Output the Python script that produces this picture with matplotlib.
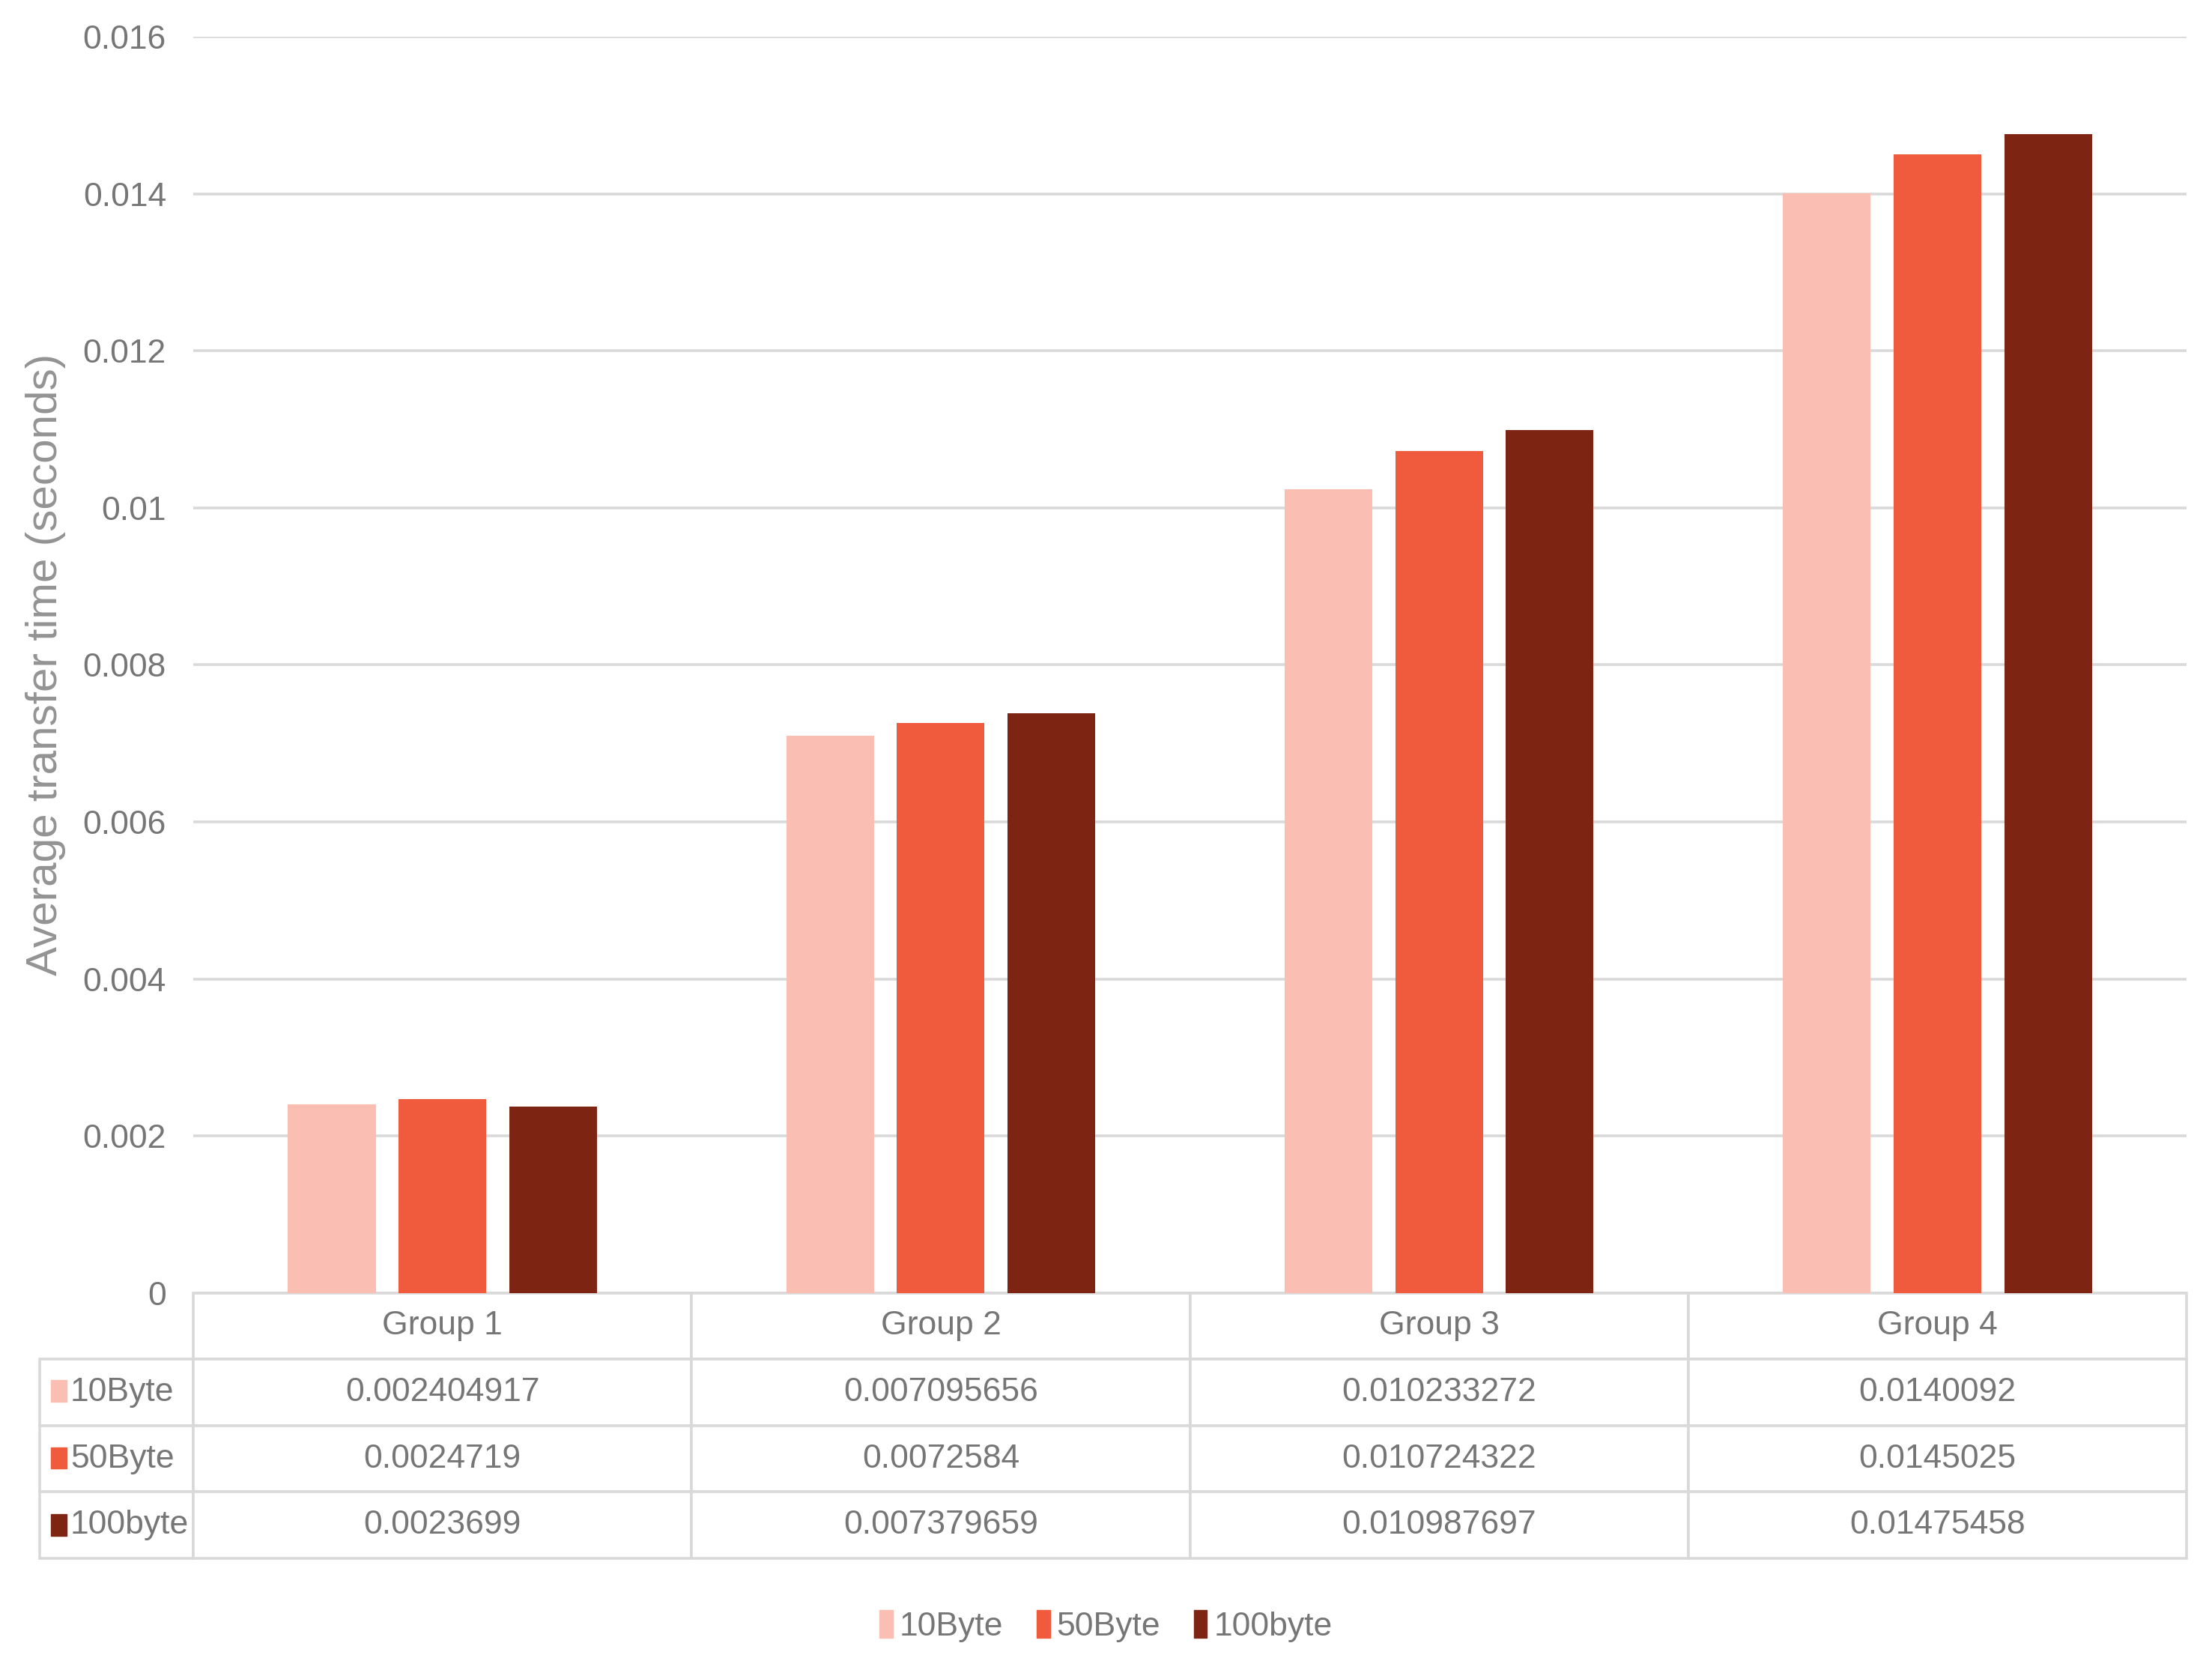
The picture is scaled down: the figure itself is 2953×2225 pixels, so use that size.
import numpy as np
import matplotlib.pyplot as plt
from matplotlib.patches import Rectangle, Patch

groups = ["Group 1", "Group 2", "Group 3", "Group 4"]
series = ["10Byte", "50Byte", "100byte"]
v10 = [0.002404917, 0.007095656, 0.010233272, 0.0140092]
v50 = [0.0024719, 0.0072584, 0.010724322, 0.0145025]
v100 = [0.0023699, 0.007379659, 0.010987697, 0.01475458]
yticks = [0, 0.002, 0.004, 0.006, 0.008, 0.01, 0.012, 0.014, 0.016]
ytick_labels = ["0", "0.002", "0.004", "0.006", "0.008", "0.01", "0.012", "0.014", "0.016"]

colors = ["#FBBEB2", "#EF5B3C", "#7D2412"]
grey = "#767676"
line_grey = "#D9D9D9"
font = ["Liberation Sans", "DejaVu Sans"]
fs = 32

fig = plt.figure(figsize=(29.53, 22.25), dpi=100)
ax = fig.add_axes([0.0874, 0.2244, 0.9011, 0.7536])

vals = [v10, v50, v100]
x = np.arange(len(groups))
width = 0.176
offsets = [-0.222, 0.0, 0.222]
for vs, off, c, name in zip(vals, offsets, colors, series):
    ax.bar(x + off, vs, width, color=c, label=name, zorder=3)

ax.set_xlim(-0.5, 3.5)
ax.set_ylim(0, 0.016)
ax.set_yticks(yticks)
ax.set_yticklabels(ytick_labels, family=font, fontsize=fs, color=grey)
ax.set_xticks([])
ax.tick_params(axis="y", length=0, pad=26)
for s in ax.spines.values():
    s.set_visible(False)
ax.yaxis.grid(True, color=line_grey, lw=2.6, zorder=0)

ax.set_ylabel("Average transfer time (seconds)", fontsize=42, color="#939393",
              family=font, labelpad=0)
ax.yaxis.set_label_coords(-0.064, 0.5)

# data table under the bars: first column holds the series names
cell_text = [[name] + [str(v) for v in vs] for name, vs in zip(series, vals)]
row_w = 109 / 1413
col_w = 353.25 / 1413
tbl = ax.table(cellText=cell_text, colLabels=[""] + groups,
               cellLoc="center", colLoc="center",
               colWidths=[row_w] + [col_w] * 4,
               bbox=[-row_w, -0.2112, 1 + row_w, 0.2112])
tbl.auto_set_font_size(False)
for (r, c), cell in tbl.get_celld().items():
    cell.set_edgecolor(line_grey)
    cell.set_linewidth(2.6)
    txt = cell.get_text()
    txt.set_fontsize(fs)
    txt.set_color(grey)
    txt.set_family(font)
    if c == 0:
        if r == 0:
            cell.visible_edges = ""
        else:
            cell._loc = "left"
            txt.set_horizontalalignment("left")
            cell.PAD = 0.2

# colour keys in the series name cells
row_centers = [-0.0781, -0.1315, -0.1848]
for yc, c in zip(row_centers, colors):
    ax.add_patch(Rectangle((-0.0715, yc - 0.0085), 0.0078, 0.017,
                           transform=ax.transAxes, color=c, clip_on=False))

handles = [Patch(color=c, label=n) for c, n in zip(colors, series)]
leg = fig.legend(handles=handles, loc="center", bbox_to_anchor=(0.5, 0.0246),
                 ncol=3, frameon=False, handlelength=0.4, handleheight=0.9,
                 handletextpad=0.2, columnspacing=1.0,
                 prop={"family": font, "size": fs})
for t in leg.get_texts():
    t.set_color(grey)

fig.savefig("out.png", dpi=100, facecolor="white")
